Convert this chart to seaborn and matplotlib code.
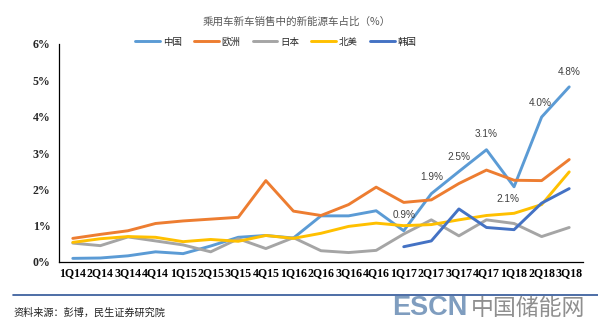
import matplotlib
matplotlib.use("Agg")
import matplotlib.pyplot as plt
import seaborn as sns
import numpy as np
import pandas as pd
from matplotlib.lines import Line2D

quarters = ["1Q14", "2Q14", "3Q14", "4Q14", "1Q15", "2Q15", "3Q15", "4Q15",
            "1Q16", "2Q16", "3Q16", "4Q16", "1Q17", "2Q17", "3Q17", "4Q17",
            "1Q18", "2Q18", "3Q18"]
china = [0.10, 0.11, 0.17, 0.28, 0.23, 0.44, 0.68, 0.73, 0.66, 1.27, 1.27, 1.41,
         0.86, 1.88, 2.49, 3.09, 2.07, 3.99, 4.82]
europe = [0.65, 0.76, 0.86, 1.06, 1.13, 1.18, 1.23, 2.24, 1.40, 1.28, 1.58, 2.06,
          1.64, 1.71, 2.16, 2.53, 2.25, 2.24, 2.82]
japan = [0.52, 0.45, 0.69, 0.58, 0.47, 0.28, 0.64, 0.37, 0.67, 0.31, 0.26, 0.32,
         0.77, 1.16, 0.72, 1.16, 1.06, 0.70, 0.95]
north_america = [0.54, 0.64, 0.70, 0.68, 0.56, 0.62, 0.57, 0.73, 0.65, 0.79, 0.98, 1.07,
                 1.00, 1.03, 1.16, 1.28, 1.34, 1.58, 2.48]
korea = [np.nan] * 12 + [0.42, 0.58, 1.46, 0.95, 0.89, 1.62, 2.02]

series_names = ["中国", "欧洲", "日本", "北美", "韩国"]
series_vals = [china, europe, japan, north_america, korea]
colors = ["#5B9BD5", "#ED7D31", "#A5A5A5", "#FFC000", "#4472C4"]

ann_idx = [12, 13, 14, 15, 16, 17, 18]
ann_text = ["0.9%", "1.9%", "2.5%", "3.1%", "2.1%", "4.0%", "4.8%"]

title = "乘用车新车销售中的新能源车占比（%）"
source = "资料来源：彭博，民生证券研究院"
yticks = [0, 1, 2, 3, 4, 5, 6]
ytick_labels = ["0%", "1%", "2%", "3%", "4%", "5%", "6%"]

rows = []
for name, vals in zip(series_names, series_vals):
    for i, v in enumerate(vals):
        rows.append({"idx": i, "region": name, "value": v})
df = pd.DataFrame(rows).dropna()

sns.set_theme(style="white")
plt.rcParams["font.family"] = ["Noto Sans CJK SC", "DejaVu Sans"]

fig = plt.figure(figsize=(5.98, 3.25), dpi=100)
ax = fig.add_axes([59/598, 1-262/325, (583-59)/598, (262-44)/325])

sns.lineplot(data=df, x="idx", y="value", hue="region", hue_order=series_names,
             palette=colors, linewidth=2.1, sort=False, legend=False, ax=ax,
             estimator=None)

ax.set_xlim(-0.5, len(quarters) - 0.5)
ax.set_ylim(0, 6)
ax.set_xlabel("")
ax.set_ylabel("")

ax.set_xticks(range(len(quarters)))
ax.set_xticklabels(quarters, fontfamily="Liberation Serif", fontweight="bold", fontsize=8.6)
ax.set_xticks(np.arange(-0.5, len(quarters), 1.0), minor=True)
ax.tick_params(axis="x", which="major", length=0, pad=4, colors="black")
ax.tick_params(axis="x", which="minor", length=3, width=0.8, direction="out", color="black")

ax.set_yticks(yticks)
ax.set_yticklabels(ytick_labels, fontfamily="Liberation Serif", fontweight="bold", fontsize=8.6)
ax.tick_params(axis="y", which="major", length=3, width=0.8, direction="out", color="black", pad=3)

for s in ["top", "right"]:
    ax.spines[s].set_visible(False)
for s in ["left", "bottom"]:
    ax.spines[s].set_color("black")
    ax.spines[s].set_linewidth(0.9)
ax.grid(False)

offsets = [(0, 16), (0, 17), (0, 15), (0, 16), (-6, -12), (-1, 14), (0, 15)]
for i, t, off in zip(ann_idx, ann_text, offsets):
    ax.annotate(t, xy=(i, china[i]), xytext=off, textcoords="offset pixels",
                ha="center", va="center", fontsize=7.2, color="#404040",
                fontfamily="Liberation Sans")

fig.text(297/598, 1-22/325, title, ha="center", va="center", fontsize=7.6, color="#595959")

handles = [Line2D([0], [0], color=c, lw=2.1) for c in colors]
fig.legend(handles, series_names, loc="center", bbox_to_anchor=(276/598, 1-42/325),
           ncol=5, frameon=False, fontsize=6.8, handlelength=2.6, handletextpad=0.3,
           columnspacing=1.3, borderpad=0)

fig.add_artist(Line2D([13/598, 1.0], [1-295/325, 1-295/325], color="#2F5597", lw=1.2))
fig.text(13/598, 1-313/325, source, ha="left", va="center", fontsize=7.3, color="#222222")

fig.text(392/598, 1-308/325, "ESCN", ha="left", va="center", fontsize=19.5, fontweight="bold",
         color="#7F9DBF", fontfamily="Liberation Sans")
fig.text(471/598, 1-308/325, "中国储能网", ha="left", va="center", fontsize=16.5,
         fontweight="medium", color="#8F8F8F")

fig.savefig("out.png", dpi=100, facecolor="white")
